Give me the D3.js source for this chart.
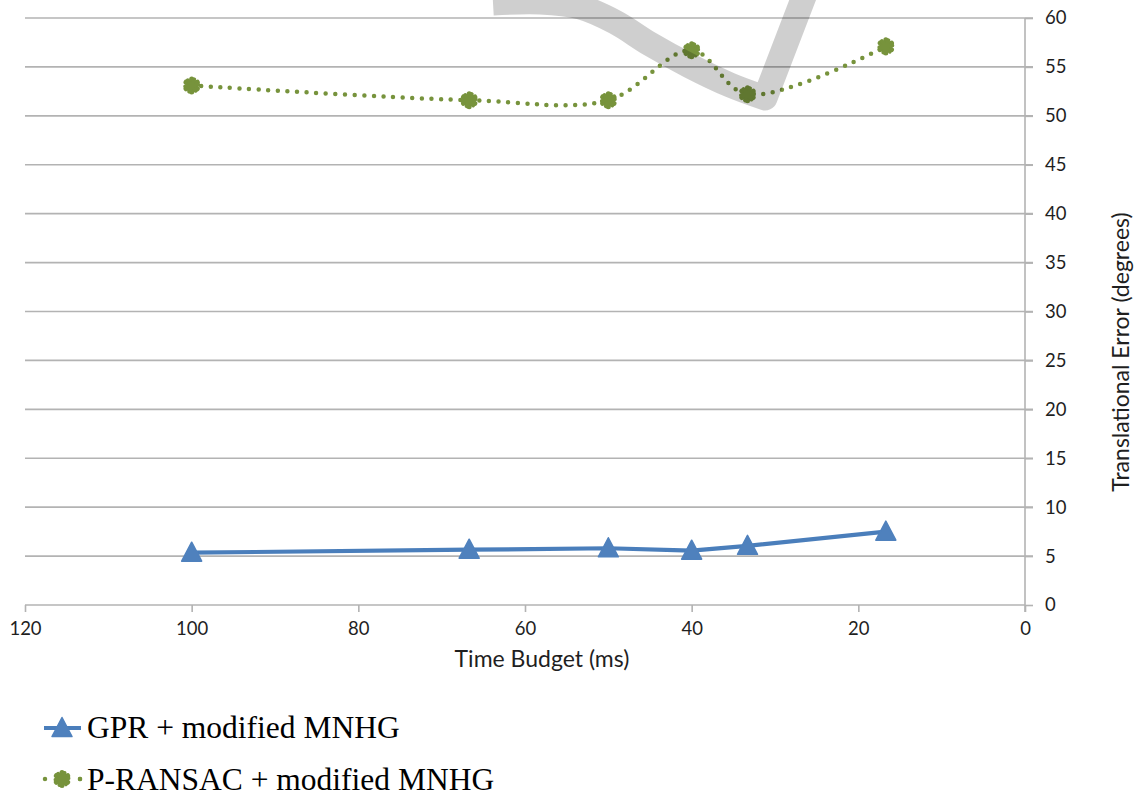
<!DOCTYPE html>
<html>
<head>
<meta charset="utf-8">
<script src="https://cdn.jsdelivr.net/npm/d3@7"></script>
<style>
  html, body { margin: 0; padding: 0; background: #fff; }
  svg { display: block; }
</style>
</head>
<body>
<svg id="chart" width="1139" height="796"></svg>
<script>
// ---- data ----
const budgets = [100, 66.7, 50, 40, 33.3, 16.7];           // Time Budget (ms)
const gprValues = [5.35, 5.65, 5.8, 5.55, 6.05, 7.5];       // GPR + modified MNHG
const pransacValues = [53.1, 51.6, 51.6, 56.7, 52.2, 57.1]; // P-RANSAC + modified MNHG
const xTicks = [120, 100, 80, 60, 40, 20, 0];
const yTicks = [0, 5, 10, 15, 20, 25, 30, 35, 40, 45, 50, 55, 60];
const seriesNames = ["GPR + modified MNHG", "P-RANSAC + modified MNHG"];
const xTitle = "Time Budget (ms)";
const yTitle = "Translational Error (degrees)";
// decorative watermark stroke (not data)
const watermark = [[493,3],[540,2],[580,7],[615,22],[650,44],[690,66],[730,85],[765,98]];
const watermarkTop = [808,-14];

const svg = d3.select("#chart");
const mLeft = 25, mRight = 1025, mTop = 18, mBottom = 605;

const x = d3.scaleLinear().domain([120, 0]).range([mLeft, mRight]);
const y = d3.scaleLinear().domain([0, 60]).range([mBottom, mTop]);

const gridColor = "#b3b3b3";
const axisFont = "Lato, 'Open Sans', sans-serif";
const textColor = "#1f1f1f";
const blue = "#4A7EBB", blueFill = "#4F81BD", green = "#77933C";

// gridlines
svg.append("g").selectAll("line").data(yTicks.filter(d => d > 0)).join("line")
  .attr("x1", mLeft).attr("x2", mRight + 8)
  .attr("y1", d => y(d)).attr("y2", d => y(d))
  .attr("stroke", gridColor).attr("stroke-width", 1.6);

// x axis
const xAxis = svg.append("g").attr("transform", `translate(0,${mBottom})`)
  .call(d3.axisBottom(x).tickValues(xTicks).tickSize(7).tickPadding(10).tickFormat(d3.format("d")));
xAxis.select(".domain").attr("stroke", gridColor).attr("stroke-width", 1.6)
  .attr("d", `M${mLeft},0H${mRight}`);
xAxis.selectAll(".tick line").attr("stroke", gridColor).attr("stroke-width", 1.6);
xAxis.selectAll(".tick text").attr("font-family", axisFont).attr("font-size", 18.5).attr("fill", textColor);

// y axis (right side)
const yAxis = svg.append("g").attr("transform", `translate(${mRight},0)`)
  .call(d3.axisRight(y).tickValues(yTicks).tickSize(8).tickPadding(12).tickFormat(d3.format("d")));
yAxis.select(".domain").attr("stroke", gridColor).attr("stroke-width", 1.6)
  .attr("d", `M0,${mTop}V${mBottom + 7}`);
yAxis.selectAll(".tick line").attr("stroke", gridColor).attr("stroke-width", 1.6);
yAxis.selectAll(".tick text").attr("font-family", axisFont).attr("font-size", 18.5).attr("fill", textColor);

// axis titles
svg.append("text").attr("x", 542).attr("y", 667)
  .attr("text-anchor", "middle").attr("font-family", axisFont).attr("font-size", 23)
  .attr("fill", textColor).text(xTitle);
svg.append("text").attr("transform", `translate(1129,352) rotate(-90)`)
  .attr("text-anchor", "middle").attr("font-family", axisFont).attr("font-size", 23)
  .attr("fill", textColor).text(yTitle);

// series
const gprData = budgets.map((b, i) => [b, gprValues[i]]);
const prData = budgets.map((b, i) => [b, pransacValues[i]]);

const lineStraight = d3.line().x(d => x(d[0])).y(d => y(d[1]));
const lineSmooth = d3.line().x(d => x(d[0])).y(d => y(d[1])).curve(d3.curveCatmullRom.alpha(0.5));

svg.append("path").datum(gprData).attr("d", lineStraight)
  .attr("fill", "none").attr("stroke", blue).attr("stroke-width", 4.2).attr("stroke-linejoin", "round");

svg.append("path").datum(prData).attr("d", lineSmooth)
  .attr("fill", "none").attr("stroke", green).attr("stroke-width", 4.5)
  .attr("stroke-linecap", "round").attr("stroke-dasharray", "0,9.6");

const triPath = "M0,-10.5L10,8.5L-10,8.5Z";
function drawTri(g, cx, cy) {
  g.append("path").attr("d", triPath).attr("transform", `translate(${cx},${cy})`)
    .attr("fill", blueFill).attr("stroke", blueFill).attr("stroke-width", 1.5).attr("stroke-linejoin", "round");
}
const starSym = d3.symbol().type(d3.symbolAsterisk).size(120);
function drawStar(g, cx, cy) {
  const s = g.append("g").attr("transform", `translate(${cx},${cy})`);
  s.append("circle").attr("r", 6).attr("fill", green);
  s.append("path").attr("d", starSym()).attr("fill", "none").attr("stroke", green)
    .attr("stroke-width", 5).attr("stroke-linecap", "round");
  s.append("path").attr("d", starSym()).attr("transform", "rotate(22.5)").attr("fill", "none").attr("stroke", green)
    .attr("stroke-width", 4).attr("stroke-linecap", "round");
}

const markers = svg.append("g");
gprData.forEach(d => drawTri(markers, x(d[0]), y(d[1])));
prData.forEach(d => drawStar(markers, x(d[0]), y(d[1])));

// legend
const legend = svg.append("g");
const legFont = "'Liberation Serif', 'Times New Roman', serif";
legend.append("line").attr("x1", 44).attr("x2", 81).attr("y1", 728).attr("y2", 728)
  .attr("stroke", blue).attr("stroke-width", 4.2);
drawTri(legend, 62, 728);
legend.append("text").attr("x", 87).attr("y", 738).attr("font-family", legFont)
  .attr("font-size", 31.5).attr("fill", "#000").text(seriesNames[0]);

legend.append("line").attr("x1", 45).attr("x2", 81).attr("y1", 779).attr("y2", 779)
  .attr("stroke", green).attr("stroke-width", 4.5).attr("stroke-linecap", "round")
  .attr("stroke-dasharray", "0,35");
legend.append("circle").attr("cx", 80).attr("cy", 779).attr("r", 2.2).attr("fill", green);
drawStar(legend, 62, 779);
legend.append("text").attr("x", 87).attr("y", 790).attr("font-family", legFont)
  .attr("font-size", 31.5).attr("fill", "#000").text(seriesNames[1]);

// watermark swoosh (decoration over the chart)
const wmLine = d3.line().curve(d3.curveCatmullRom.alpha(0.5));
svg.append("path")
  .attr("d", wmLine(watermark) + `L${watermarkTop[0]},${watermarkTop[1]}`)
  .attr("fill", "none").attr("stroke", "#000").attr("stroke-opacity", 0.19)
  .attr("stroke-width", 25).attr("stroke-linejoin", "round");
</script>
</body>
</html>
